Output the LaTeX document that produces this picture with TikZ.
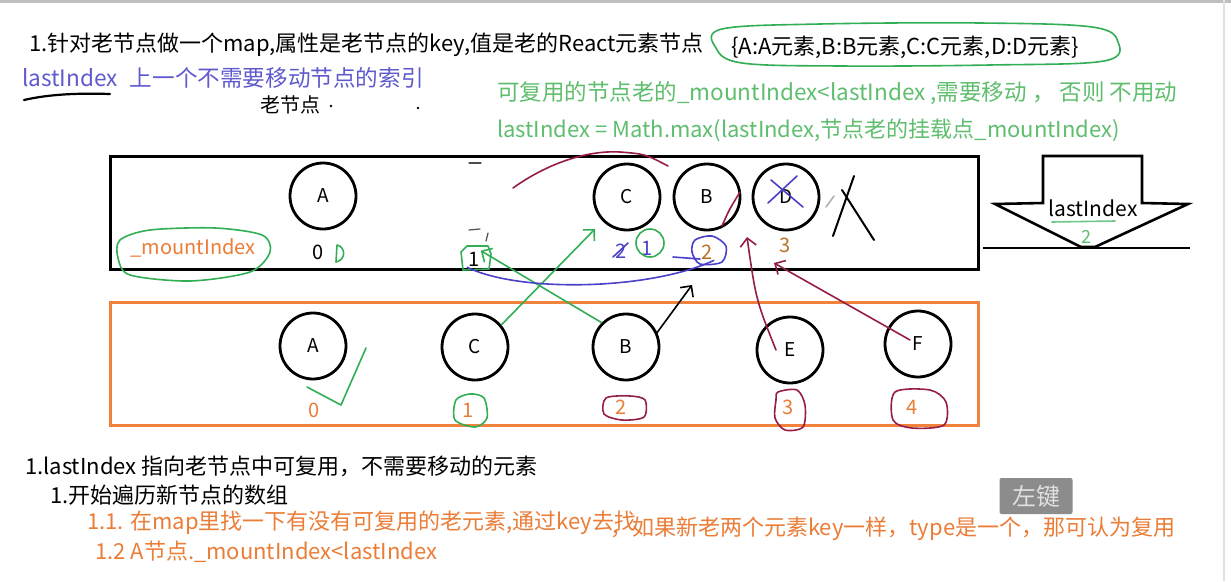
\documentclass[tikz,border=0pt]{standalone}
\usepackage{fontspec}
\setmainfont{Noto Sans CJK SC}
\usetikzlibrary{arrows.meta,positioning}
\definecolor{penGreen}{RGB}{50,175,85}
\definecolor{txtGreen}{RGB}{95,190,110}
\definecolor{txtBlue}{RGB}{95,90,205}
\definecolor{penBlue}{RGB}{75,65,200}
\definecolor{penRed}{RGB}{150,30,70}
\definecolor{boxOrange}{RGB}{240,130,60}
\definecolor{txtOrange}{RGB}{235,125,55}
\definecolor{numBrown}{RGB}{185,115,40}
\definecolor{keyGray}{RGB}{140,140,140}

\begin{document}
\begin{tikzpicture}[x=1pt,y=-1pt]
    \tikzstyle{oldnode} = [circle, draw=black, line width=2.8pt, minimum size=66pt,
        inner sep=0pt, font=\fontsize{19}{19}\selectfont]
    \tikzstyle{newnode} = [oldnode]
    \tikzstyle{idx} = [inner sep=1pt, font=\fontsize{20}{20}\selectfont]
    \tikzstyle{txt} = [anchor=west, inner sep=0pt, font=\fontsize{22}{24}\selectfont]
    \tikzstyle{pen} = [line width=1.6pt, line cap=round, line join=round]
    \tikzstyle{arrow} = [pen, -{Straight Barb[length=8pt,width=16pt]}]

    \useasboundingbox (0,0) rectangle (1231,581);
    \fill[white] (0,0) rectangle (1231,581);
    \draw[black!25, line width=3pt] (0,1.5) -- (1231,1.5);
    \draw[black!12, line width=2pt] (1224,0) -- (1224,581);

    % 上方说明
    \node (title) [txt] at (29,45) {1.针对老节点做一个map,属性是老节点的key,值是老的React元素节点};
    \node (dict) [txt] at (731,47) {\{A:A元素,B:B元素,C:C元素,D:D元素\}};
    \draw [pen, penGreen] plot [smooth cycle, tension=0.6] coordinates {(722,29) (820,24) (980,23)
        (1092,27) (1118,42) (1104,61) (990,65) (840,66) (742,63) (716,48)};
    \node (hint) [txt, text=txtBlue, font=\fontsize{22.6}{24}\selectfont] at (22,78)
        {lastIndex\hspace{12pt}上一个不需要移动节点的索引};
    \draw [pen, line width=2.2pt] (24,100) .. controls (50,94) and (80,93) .. (110,94);
    \node (oldTitle) at (290,105) [font=\fontsize{20}{20}\selectfont] {老节点};
    \fill (331,106) circle (1.3pt);
    \fill (418,108) circle (1.3pt);
    \node (rule1) [txt, text=txtGreen, font=\fontsize{22.5}{24}\selectfont] at (497,93)
        {可复用的节点老的\_mountIndex<lastIndex ,需要移动 ， 否则 不用动};
    \node (rule2) [txt, text=txtGreen] at (497,130) {lastIndex = Math.max(lastIndex,节点老的挂载点\_mountIndex)};

    % 老节点
    \draw [line width=3pt] (110,156) rectangle (978,269);
    \node (oA) [oldnode] at (323,196) {A};
    \node (oC) [oldnode] at (627,197) {C};
    \node (oB) [oldnode] at (707,197) {B};
    \node (oD) [oldnode] at (786,197) {D};
    \node (o0) [idx] at (318,252) {0};
    \node (o1) [idx] at (474,259) {1};
    \node (o2x) [idx, text=penBlue] at (621,251) {2};
    \node (o1x) [idx, text=penBlue] at (647,248) {1};
    \node (o2) [idx, text=numBrown] at (707,252) {2};
    \node (o3) [idx, text=numBrown] at (785,245) {3};
    \node (mount) [font=\fontsize{20}{20}\selectfont, text=txtOrange] at (193,248) {\_mountIndex};
    \draw [pen, penGreen] plot [smooth cycle] coordinates {(120,240) (150,230) (215,228) (262,235)
        (270,252) (250,272) (190,281) (130,275) (118,258)};
    \draw [pen, penGreen] (337,245) -- (336,262) .. controls (346,260) and (346,247) .. (337,245);
    \draw [pen, penGreen] (461,252) -- (467,246) -- (488,246) -- (491,254) -- (489,269) -- (463,270) -- cycle;
    \draw [pen, penGreen] (650,243) circle (14pt);
    \draw [pen, penBlue] (613,257) -- (628,243);
    \draw [pen, penBlue] plot [smooth cycle] coordinates {(695,240) (712,236) (726,246) (722,262) (700,264) (692,252)};
    \draw [pen, penBlue] (673,257) -- (700,259);
    \draw [pen, penBlue] (768,203) -- (797,176);
    \draw [pen, penBlue] (771,180) -- (803,207);
    \draw [pen, line width=2pt] (833,236) -- (854,176);
    \draw [pen, line width=2pt] (842,190) -- (874,240);
    \draw [pen, black!30] (826,207) -- (834,196);
    \draw [pen, black!70, line width=1.2pt] (469,163) -- (481,163);
    \draw [pen, black!70, line width=1.2pt] (469,230) -- (480,229);
    \draw [pen, black!70, line width=1.2pt] (488,233) -- (486,241);
    \draw [pen, penRed] (513,188) .. controls (545,165) and (585,150) .. (620,152)
        .. controls (645,154) .. (668,166);
    \draw [pen, penRed] (722,226) .. controls (729,210) .. (740,192);

    % lastIndex 指针
    \draw [line width=2.6pt, line join=miter] (1043,156) -- (1142,156) -- (1142,203) -- (1188,204)
        -- (1095,247) -- (1081,247) -- (995,204) -- (1043,203) -- cycle;
    \draw [line width=1.4pt] (983,248) -- (1190,248);
    \node (liLbl) at (1093,208) [font=\fontsize{21}{21}\selectfont] {lastIndex};
    \draw [pen, penGreen!70] (1052,222) -- (1115,221);
    \node (liVal) at (1086,237) [text=txtGreen, font=\fontsize{18}{18}\selectfont] {2};

    % 新节点
    \draw [boxOrange, line width=3pt] (110,302) rectangle (978,425);
    \node (nA) [newnode] at (313,346) {A};
    \node (nC) [newnode] at (475,347) {C};
    \node (nB) [newnode] at (626,347) {B};
    \node (nE) [newnode] at (790,350) {E};
    \node (nF) [newnode] at (918,344) {F};
    \node (n0) [idx, text=txtOrange] at (314,410) {0};
    \node (n1) [idx, text=txtOrange] at (468,410) {1};
    \node (n2) [idx, text=txtOrange] at (621,407) {2};
    \node (n3) [idx, text=txtOrange] at (788,407) {3};
    \node (n4) [idx, text=txtOrange] at (912,407) {4};
    \draw [pen, penGreen] (307,387) -- (341,405) -- (366,348);
    \draw [pen, penGreen] plot [smooth cycle] coordinates {(456,400) (470,394) (484,398) (487,418) (475,427) (455,420)};
    \draw [pen, penRed] plot [smooth cycle] coordinates {(606,398) (630,396) (645,400) (644,417) (622,420) (604,414)};
    \draw [pen, penRed] plot [smooth cycle] coordinates {(778,392) (797,390) (805,405) (803,427) (785,430) (775,418) (776,400)};
    \draw [pen, penRed] plot [smooth cycle] coordinates {(895,392) (930,390) (946,402) (944,425) (912,428) (893,420)};

    % 连线
    \coordinate (cHit) at (595,229);
    \coordinate (bHit) at (692,285);
    \coordinate (eHit) at (747,237);
    \coordinate (fHit) at (774,263);
    \draw [arrow, penGreen] (nC.40) -- (cHit);
    \draw [arrow, penGreen] (nB.135) -- (o1.north east);
    \draw [pen, penBlue] (o1.south west) .. controls (520,293) and (650,290) .. (o2.south east);
    \draw [arrow] (nB.25) -- (bHit);
    \draw [arrow, penRed] ([xshift=-14pt]nE.center) .. controls (756,300) .. (eHit);
    \draw [arrow, penRed] ([shift={(-8,-4)}]nF.center) -- (fHit);

    % 下方说明
    \node (step0) [txt] at (25,466) {1.lastIndex 指向老节点中可复用，不需要移动的元素};
    \node (step1) [txt] at (50,495) {1.开始遍历新节点的数组};
    \node (step11) [txt, text=txtOrange] at (87,523) {1.1. 在map里找一下有没有可复用的老元素,通过key去找};
    \node (step11b) [txt, text=txtOrange] at (610,529) {，如果新老两个元素key一样，type是一个，那可认为复用};
    \node (step12) [txt, text=txtOrange] at (95,552) {1.2 A节点.\_mountIndex<lastIndex};
    \node (leftKey) [fill=keyGray, text=black!12, rounded corners=2pt, minimum width=73pt,
        minimum height=36pt, font=\fontsize{24}{24}\selectfont] at (1036,496) {左键};
\end{tikzpicture}
\end{document}
